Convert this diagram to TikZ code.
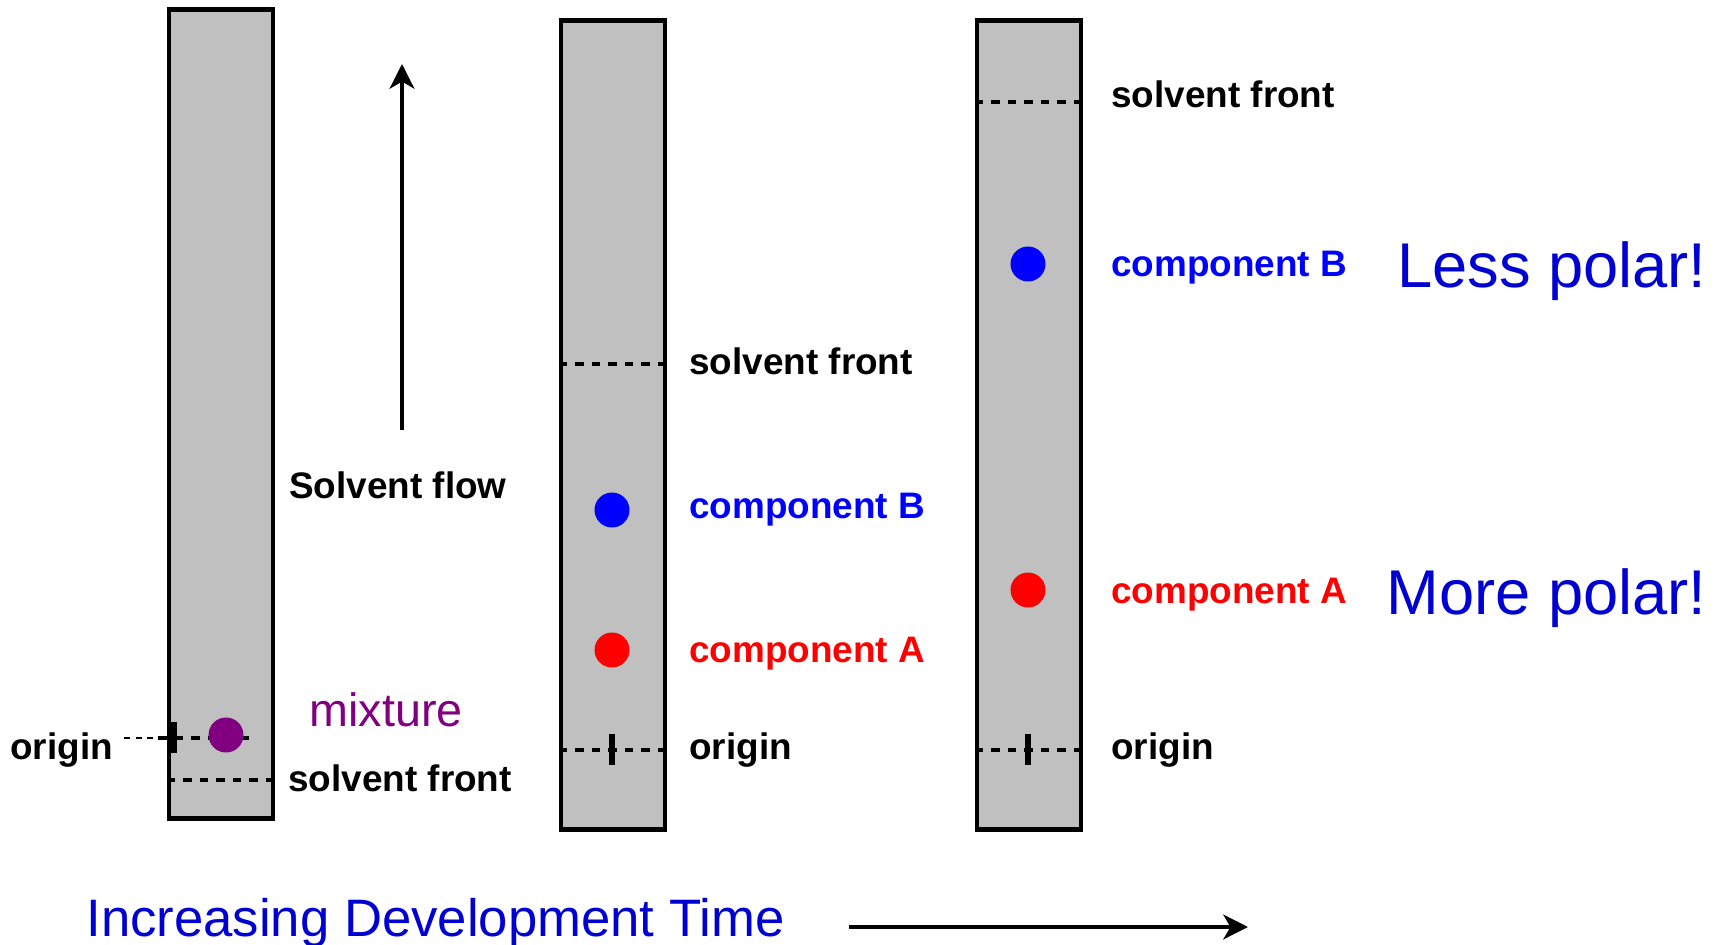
\documentclass[tikz,border=0pt]{standalone}
\usepackage{fontspec}
\setmainfont{Liberation Sans}
\usepackage{tikz}
\usetikzlibrary{arrows.meta, positioning, calc}
\definecolor{spotblue}{RGB}{0, 0, 255}
\definecolor{spotred}{RGB}{255, 0, 0}
\definecolor{spotpurple}{RGB}{128, 0, 128}
\definecolor{plategray}{RGB}{192, 192, 192}
\definecolor{noteblue}{RGB}{0, 0, 210}

\begin{document}
\begin{tikzpicture}[x=0.02cm, y=-0.02cm,
    plate/.style={draw, line width=2.5pt, fill=plategray, inner sep=0pt, minimum width=2.08cm, minimum height=16.18cm},
    spot/.style={circle, inner sep=0pt, minimum size=0.7cm},
    frontline/.style={line width=2.6pt, dash pattern=on 4.9pt off 4.5pt},
    tick/.style={line width=3pt},
    leader/.style={line width=0.6pt, dash pattern=on 3.5pt off 3pt},
    lbl/.style={font=\fontsize{21}{25}\selectfont\bfseries, anchor=base west, inner sep=0pt},
    note/.style={font=\fontsize{36}{43}\selectfont, text=noteblue, inner sep=0pt},
    bigarrow/.style={-{Stealth[length=14pt, width=14pt, inset=4pt]}, line width=2.8pt}
  ]
  \useasboundingbox (0,0) rectangle (1721,945);

  % Plates
  \node[plate] (p1) at (221, 414) {};
  \node[plate] (p2) at (613, 425) {};
  \node[plate] (p3) at (1029, 425) {};

  % Plate 1: start
  \coordinate (t1) at (174, 738);
  \draw[frontline] (158, 738) -- (257, 738);
  \draw[tick] (174, 722) -- (174, 753);
  \draw[frontline] (p1.west |- 0,780) -- (p1.east |- 0,780);
  \node[spot, fill=spotpurple] (mix) at (226, 735) {};
  \node[lbl] (o1) at (10, 759) {origin};
  \draw[leader] ($(o1.east |- t1)+(11,0)$) -- (160, 738);
  \node[lbl, font=\fontsize{26.6}{32}\selectfont, text=spotpurple] (mixlbl) at (309, 726) {mixture};
  \node[lbl] (f1) at (288, 791) {solvent front};

  % Solvent flow
  \coordinate (flowtail) at (402, 430);
  \coordinate (flowhead) at (402, 64);
  \draw[bigarrow] (flowtail) -- (flowhead);
  \node[lbl] (flow) at (289, 499) {Solvent flow};

  % Plate 2: part way
  \draw[frontline] (p2.west |- 0,364) -- (p2.east |- 0,364);
  \draw[frontline] (p2.west |- 0,750) -- (p2.east |- 0,750);
  \draw[tick] (612, 734) -- (612, 765);
  \node[spot, fill=spotblue] (b2) at (612, 510) {};
  \node[spot, fill=spotred] (a2) at (612, 650) {};
  \node[lbl] (f2) at (689, 375) {solvent front};
  \node[lbl, text=spotblue] (b2lbl) at (689, 519) {component B};
  \node[lbl, text=spotred] (a2lbl) at (689, 663) {component A};
  \node[lbl] (o2) at (689, 759) {origin};

  % Plate 3: finished
  \draw[frontline] (p3.west |- 0,102) -- (p3.east |- 0,102);
  \draw[frontline] (p3.west |- 0,750) -- (p3.east |- 0,750);
  \draw[tick] (1028, 734) -- (1028, 765);
  \node[spot, fill=spotblue] (b3) at (1028, 264) {};
  \node[spot, fill=spotred] (a3) at (1028, 590) {};
  \node[lbl] (f3) at (1111, 108) {solvent front};
  \node[lbl, text=spotblue] (b3lbl) at (1111, 277) {component B};
  \node[lbl, text=spotred] (a3lbl) at (1111, 603) {component A};
  \node[lbl] (o3) at (1111, 759) {origin};
  \node[note, anchor=base east] (less) at (1707, 288) {Less polar!};
  \node[note, anchor=base east] (more) at (1707, 615) {More polar!};

  % Time axis
  \node[note, font=\fontsize{30}{36}\selectfont, anchor=base west] (devtime) at (86, 936) {Increasing Development Time};
  \coordinate (timetail) at (849, 927);
  \coordinate (timehead) at (1248, 927);
  \draw[bigarrow] (timetail) -- (timehead);
\end{tikzpicture}
\end{document}
